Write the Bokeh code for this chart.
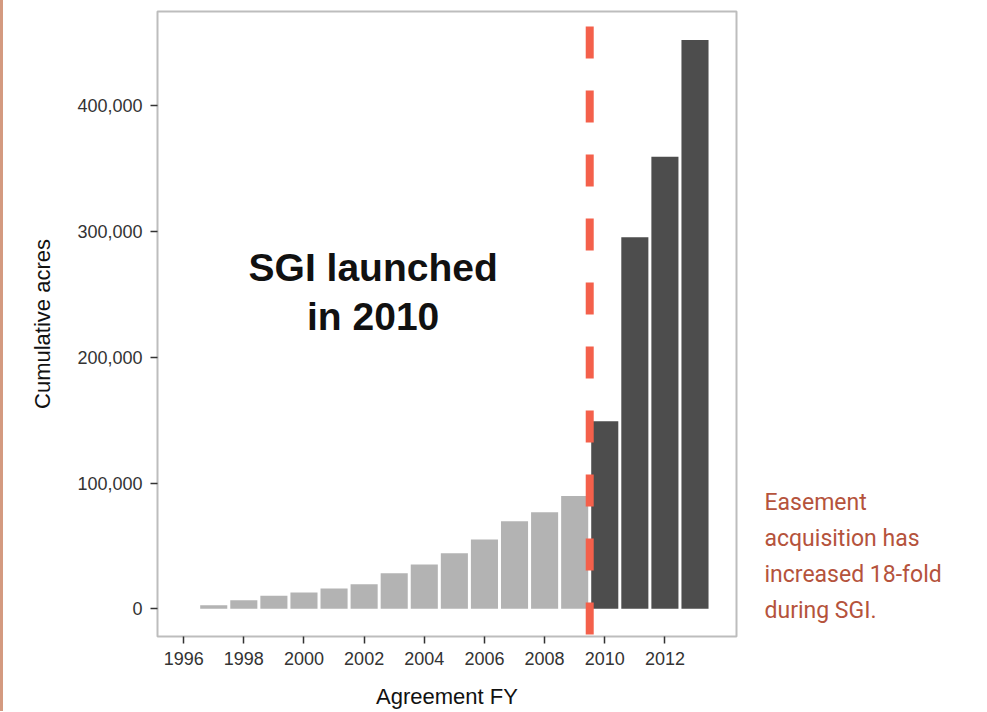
from bokeh.plotting import figure
from bokeh.models import (Range1d, Span, Label, FixedTicker, NumeralTickFormatter, Spacer,
                          ColumnDataSource, LinearAxis)
from bokeh.layouts import row
from bokeh.embed import file_html
from bokeh.resources import INLINE

# ---- data ----
years = [1997, 1998, 1999, 2000, 2001, 2002, 2003, 2004, 2005,
         2006, 2007, 2008, 2009, 2010, 2011, 2012, 2013]
acres = [2900, 6800, 10300, 13000, 16100, 19600, 28300, 35200, 44200,
         55100, 69700, 76800, 89600, 149000, 295400, 359300, 452100]
x_ticks = [1996, 1998, 2000, 2002, 2004, 2006, 2008, 2010, 2012]
y_ticks = [0, 100000, 200000, 300000, 400000]
sgi_start = 2010
annotation_lines = ["SGI launched", "in 2010"]
side_note_lines = ["Easement", "acquisition has", "increased 18-fold", "during SGI."]

PRE_COLOR = "#b3b3b3"
SGI_COLOR = "#4d4d4d"
colors = [PRE_COLOR if y < sgi_start else SGI_COLOR for y in years]

src = ColumnDataSource(dict(x=years, top=acres, color=colors))

p = figure(width=984, height=711, output_backend="svg", toolbar_location=None,
           x_range=Range1d(1995.13, 2014.38), y_range=Range1d(-22000, 474800),
           min_border_left=154, min_border_right=251, min_border_top=11, min_border_bottom=75)

p.vbar(x="x", top="top", bottom=0, width=0.9, fill_color="color", line_color=None, source=src)

p.xgrid.visible = False
p.ygrid.visible = False
p.background_fill_color = "white"
p.border_fill_color = "white"
p.outline_line_color = "#bdbdbd"
p.outline_line_width = 2

for ax in (p.xaxis[0], p.yaxis[0]):
    ax.axis_line_color = None
    ax.major_tick_in = 0
    ax.major_tick_out = 7
    ax.major_tick_line_color = "#333333"
    ax.major_tick_line_width = 1.5
    ax.minor_tick_line_color = None
    ax.major_label_text_font = "Liberation Sans"
    ax.major_label_text_font_size = "18px"
    ax.major_label_text_color = "#333333"
    ax.axis_label_text_font = "Liberation Sans"
    ax.axis_label_text_font_size = "22px"
    ax.axis_label_text_font_style = "normal"
    ax.axis_label_text_color = "#111111"

p.xaxis.ticker = FixedTicker(ticks=x_ticks)
p.yaxis.ticker = FixedTicker(ticks=y_ticks)
p.yaxis.formatter = NumeralTickFormatter(format="0,0")
p.xaxis.axis_label = "Agreement FY"
p.yaxis.axis_label = "Cumulative acres"
p.xaxis.major_label_standoff = 8
p.yaxis.major_label_standoff = 8
p.xaxis.axis_label_standoff = 16
p.yaxis.axis_label_standoff = 19

# dashed SGI launch line
p.add_layout(Span(location=sgi_start - 0.5, dimension="height", line_color="#f4604b",
                  line_width=8, line_dash="32 32", line_dash_offset=49))

# big annotation
for i, t in enumerate(annotation_lines):
    p.add_layout(Label(x=2002.3, y=271600, y_offset=-49 * i, text=t, text_align="center",
                       text_baseline="alphabetic", text_font="Liberation Sans",
                       text_font_style="bold", text_font_size="39px", text_color="#111111"))

# side note, drawn as the labels of a bare axis on the right
note_y = [84800, 56000, 27200, -1600]
note_axis = LinearAxis(ticker=FixedTicker(ticks=note_y),
                       major_label_overrides={v: t for v, t in zip(note_y, side_note_lines)})
note_axis.axis_line_color = None
note_axis.major_tick_line_color = None
note_axis.minor_tick_line_color = None
note_axis.major_tick_in = 0
note_axis.major_tick_out = 0
note_axis.major_label_standoff = 28
note_axis.major_label_text_font = "Roboto"
note_axis.major_label_text_font_size = "23px"
note_axis.major_label_text_color = "#b5533c"
p.add_layout(note_axis, "right")

edge = Spacer(width=3, height=711, styles={"background-color": "#d49a80"})
layout = row(edge, p)

open("out.html", "w").write(file_html(layout, INLINE))
